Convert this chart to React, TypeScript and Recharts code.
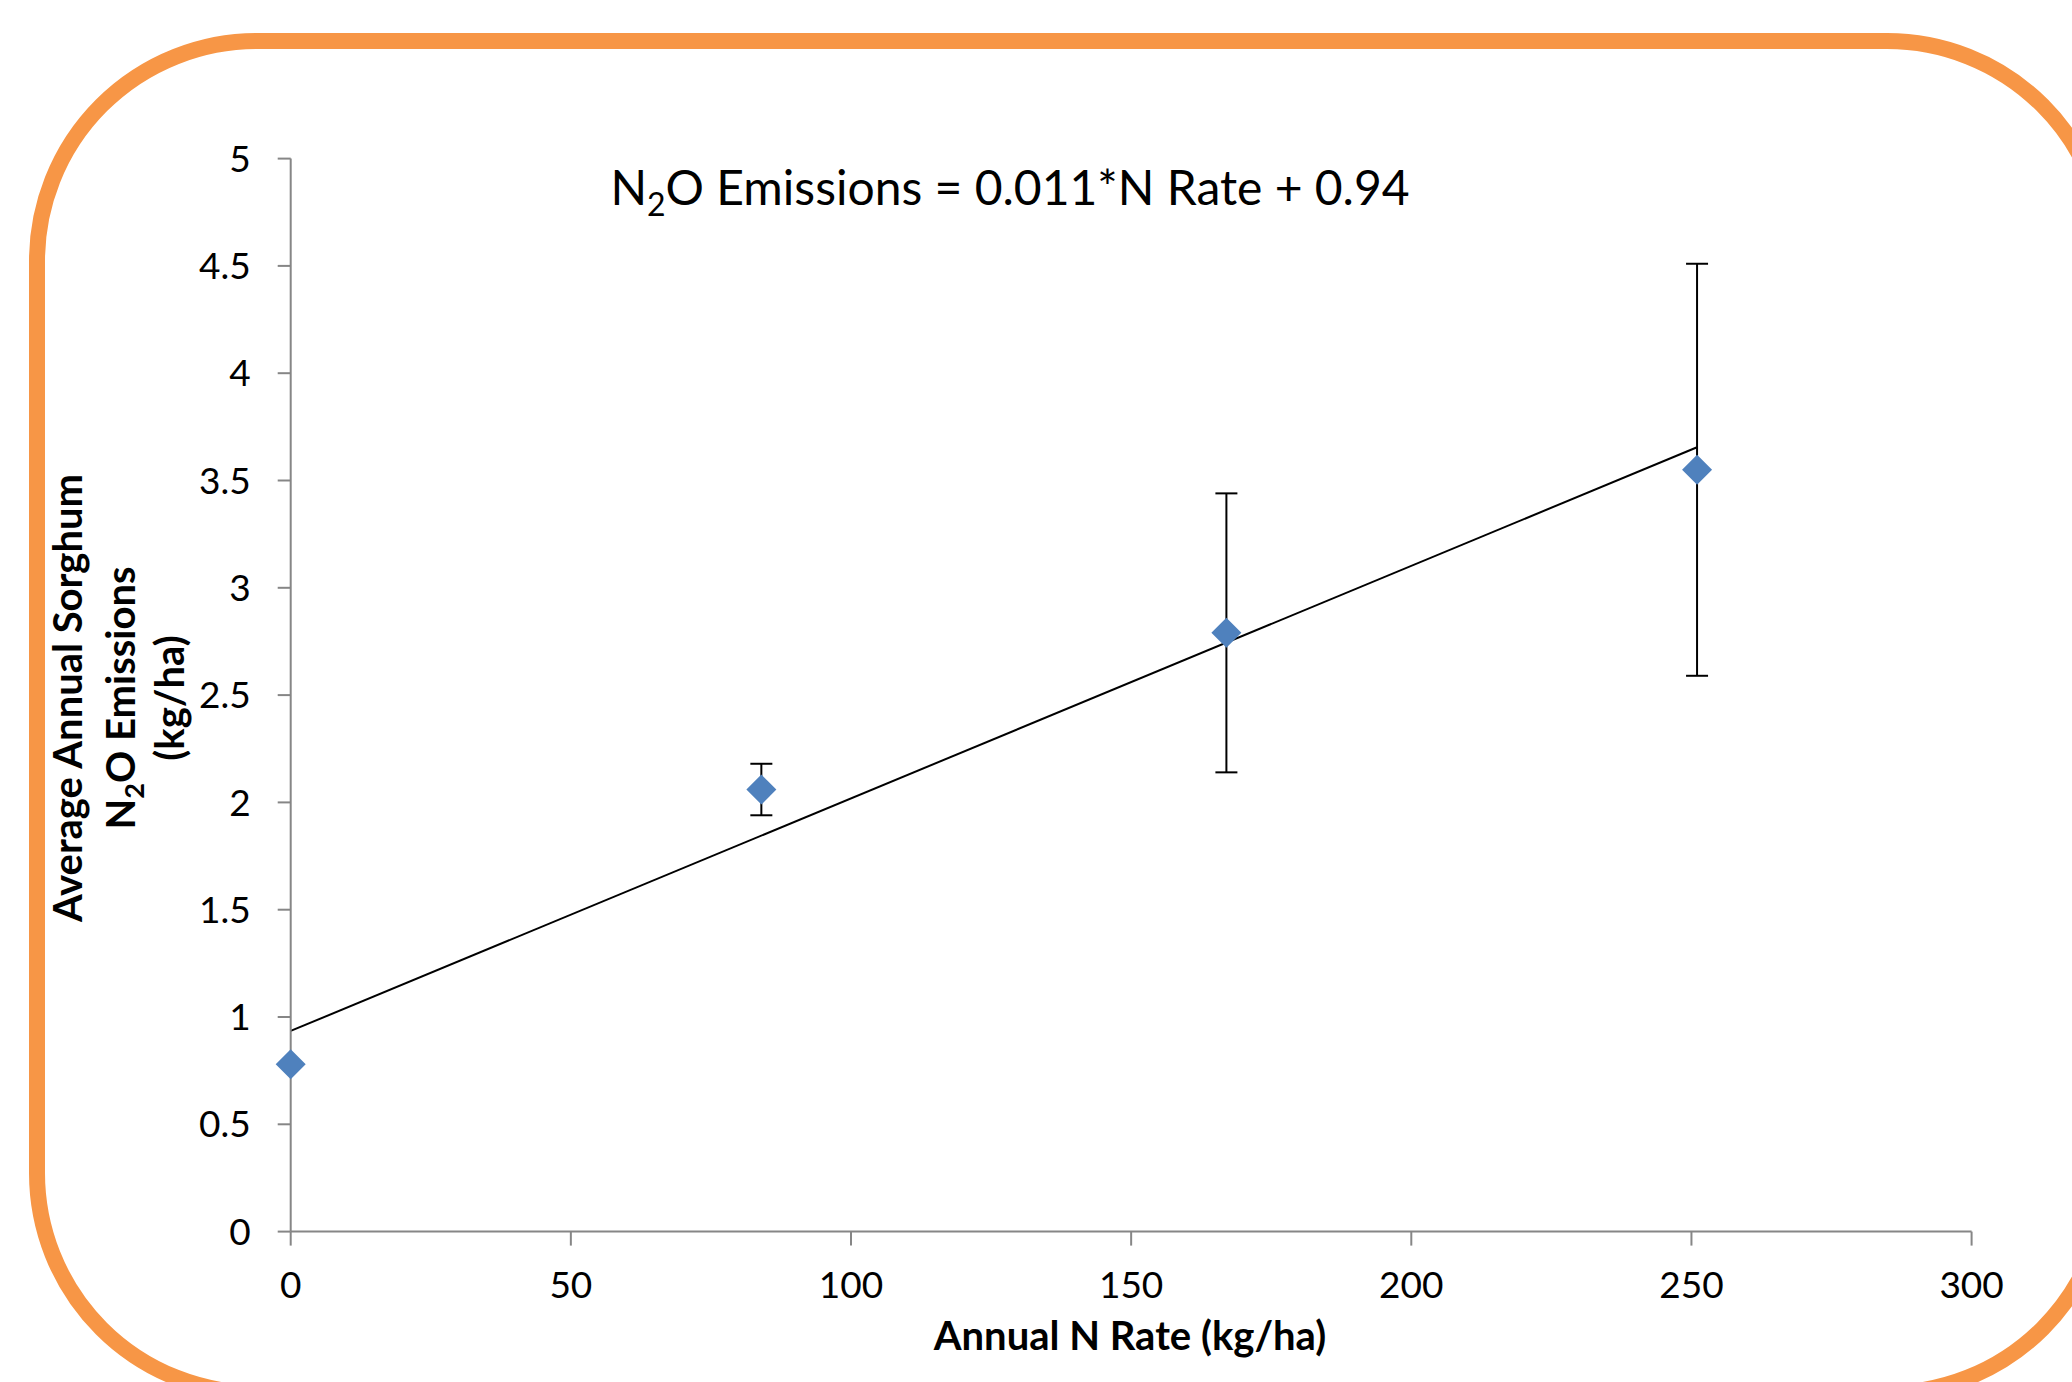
import React from 'react';
import { ComposedChart, Scatter, ErrorBar, XAxis, YAxis, ReferenceLine } from 'recharts';

// N rate (kg/ha) and mean annual N2O emissions (kg/ha)
const N_RATE = [0, 84, 167, 251];
const EMISSIONS = [0.78, 2.06, 2.79, 3.55];
const STD_ERR = [0, 0.12, 0.65, 0.96];

// fitted trendline end points
const TREND_X = [0, 251];
const TREND_Y = [0.935, 3.655];

const X_TICKS = [0, 50, 100, 150, 200, 250, 300];
const Y_TICKS = [0, 0.5, 1, 1.5, 2, 2.5, 3, 3.5, 4, 4.5, 5];

const FONT = 'Lato, "Open Sans", sans-serif';
const AXIS_GRAY = '#868686';
const MARKER_BLUE = '#4F81BD';
const BORDER_ORANGE = '#F79646';

const points = N_RATE.map((x, i) => ({ x, y: EMISSIONS[i], err: STD_ERR[i] }));

const Diamond = (props: any) => {
  const { cx, cy } = props;
  const r = 15;
  return (
    <polygon
      points={`${cx},${cy - r} ${cx + r},${cy} ${cx},${cy + r} ${cx - r},${cy}`}
      fill={MARKER_BLUE}
    />
  );
};

const tickStyle = { fill: '#000', fontSize: 37, fontFamily: FONT };

const App: React.FC = () => {
  return (
    <div
      style={{
        position: 'absolute',
        top: 0,
        left: 0,
        width: 2072,
        height: 1382,
        overflow: 'hidden',
        background: '#fff',
      }}
    >
      {/* rounded orange frame, runs off the right and bottom edges */}
      <div
        style={{
          position: 'absolute',
          left: 29,
          top: 33,
          width: 2086,
          height: 1368,
          border: `16px solid ${BORDER_ORANGE}`,
          borderRadius: 228,
          boxSizing: 'border-box',
        }}
      />
      <div style={{ position: 'absolute', top: 0, left: 0 }}>
        <ComposedChart
          width={2072}
          height={1382}
          data={points}
          margin={{ top: 158.6, right: 100.4, bottom: 90.4, left: 200.7 }}
        >
          <XAxis
            type="number"
            dataKey="x"
            domain={[0, 300]}
            ticks={X_TICKS}
            interval={0}
            height={60}
            axisLine={{ stroke: AXIS_GRAY, strokeWidth: 2 }}
            tickLine={{ stroke: AXIS_GRAY, strokeWidth: 2 }}
            tickSize={14}
            tickMargin={26}
            tick={tickStyle}
          />
          <YAxis
            type="number"
            dataKey="y"
            domain={[0, 5]}
            ticks={Y_TICKS}
            interval={0}
            width={90}
            axisLine={{ stroke: AXIS_GRAY, strokeWidth: 2 }}
            tickLine={{ stroke: AXIS_GRAY, strokeWidth: 2 }}
            tickSize={13}
            tickMargin={27}
            tick={tickStyle}
          />
          <Scatter data={points} dataKey="y" shape={Diamond} isAnimationActive={false}>
            <ErrorBar dataKey="err" direction="y" width={11} stroke="#000" strokeWidth={2} />
          </Scatter>
          <ReferenceLine
            segment={[
              { x: TREND_X[0], y: TREND_Y[0] },
              { x: TREND_X[1], y: TREND_Y[1] },
            ]}
            stroke="#000"
            strokeWidth={2}
          />
        </ComposedChart>
      </div>
      <svg
        width={2072}
        height={1382}
        style={{ position: 'absolute', top: 0, left: 0, pointerEvents: 'none' }}
        fontFamily={FONT}
      >
        <text x={1010} y={205} fontSize={48} textAnchor="middle" fill="#000">
          N<tspan fontSize={32} dy={11}>2</tspan>
          <tspan dy={-11}>O Emissions = 0.011*N Rate + 0.94</tspan>
        </text>
        <text x={1130} y={1350} fontSize={40} fontWeight="bold" textAnchor="middle" fill="#000">
          Annual N Rate (kg/ha)
        </text>
        <g fontSize={40} fontWeight="bold" fill="#000" textAnchor="middle">
          <text x={82} y={698} transform="rotate(-90, 82, 698)">
            Average Annual Sorghum
          </text>
          <text x={135} y={698} transform="rotate(-90, 135, 698)">
            N<tspan fontSize={27} dy={9}>2</tspan>
            <tspan dy={-9}>O Emissions</tspan>
          </text>
          <text x={184} y={698} transform="rotate(-90, 184, 698)">
            (kg/ha)
          </text>
        </g>
      </svg>
    </div>
  );
};

export default App;
